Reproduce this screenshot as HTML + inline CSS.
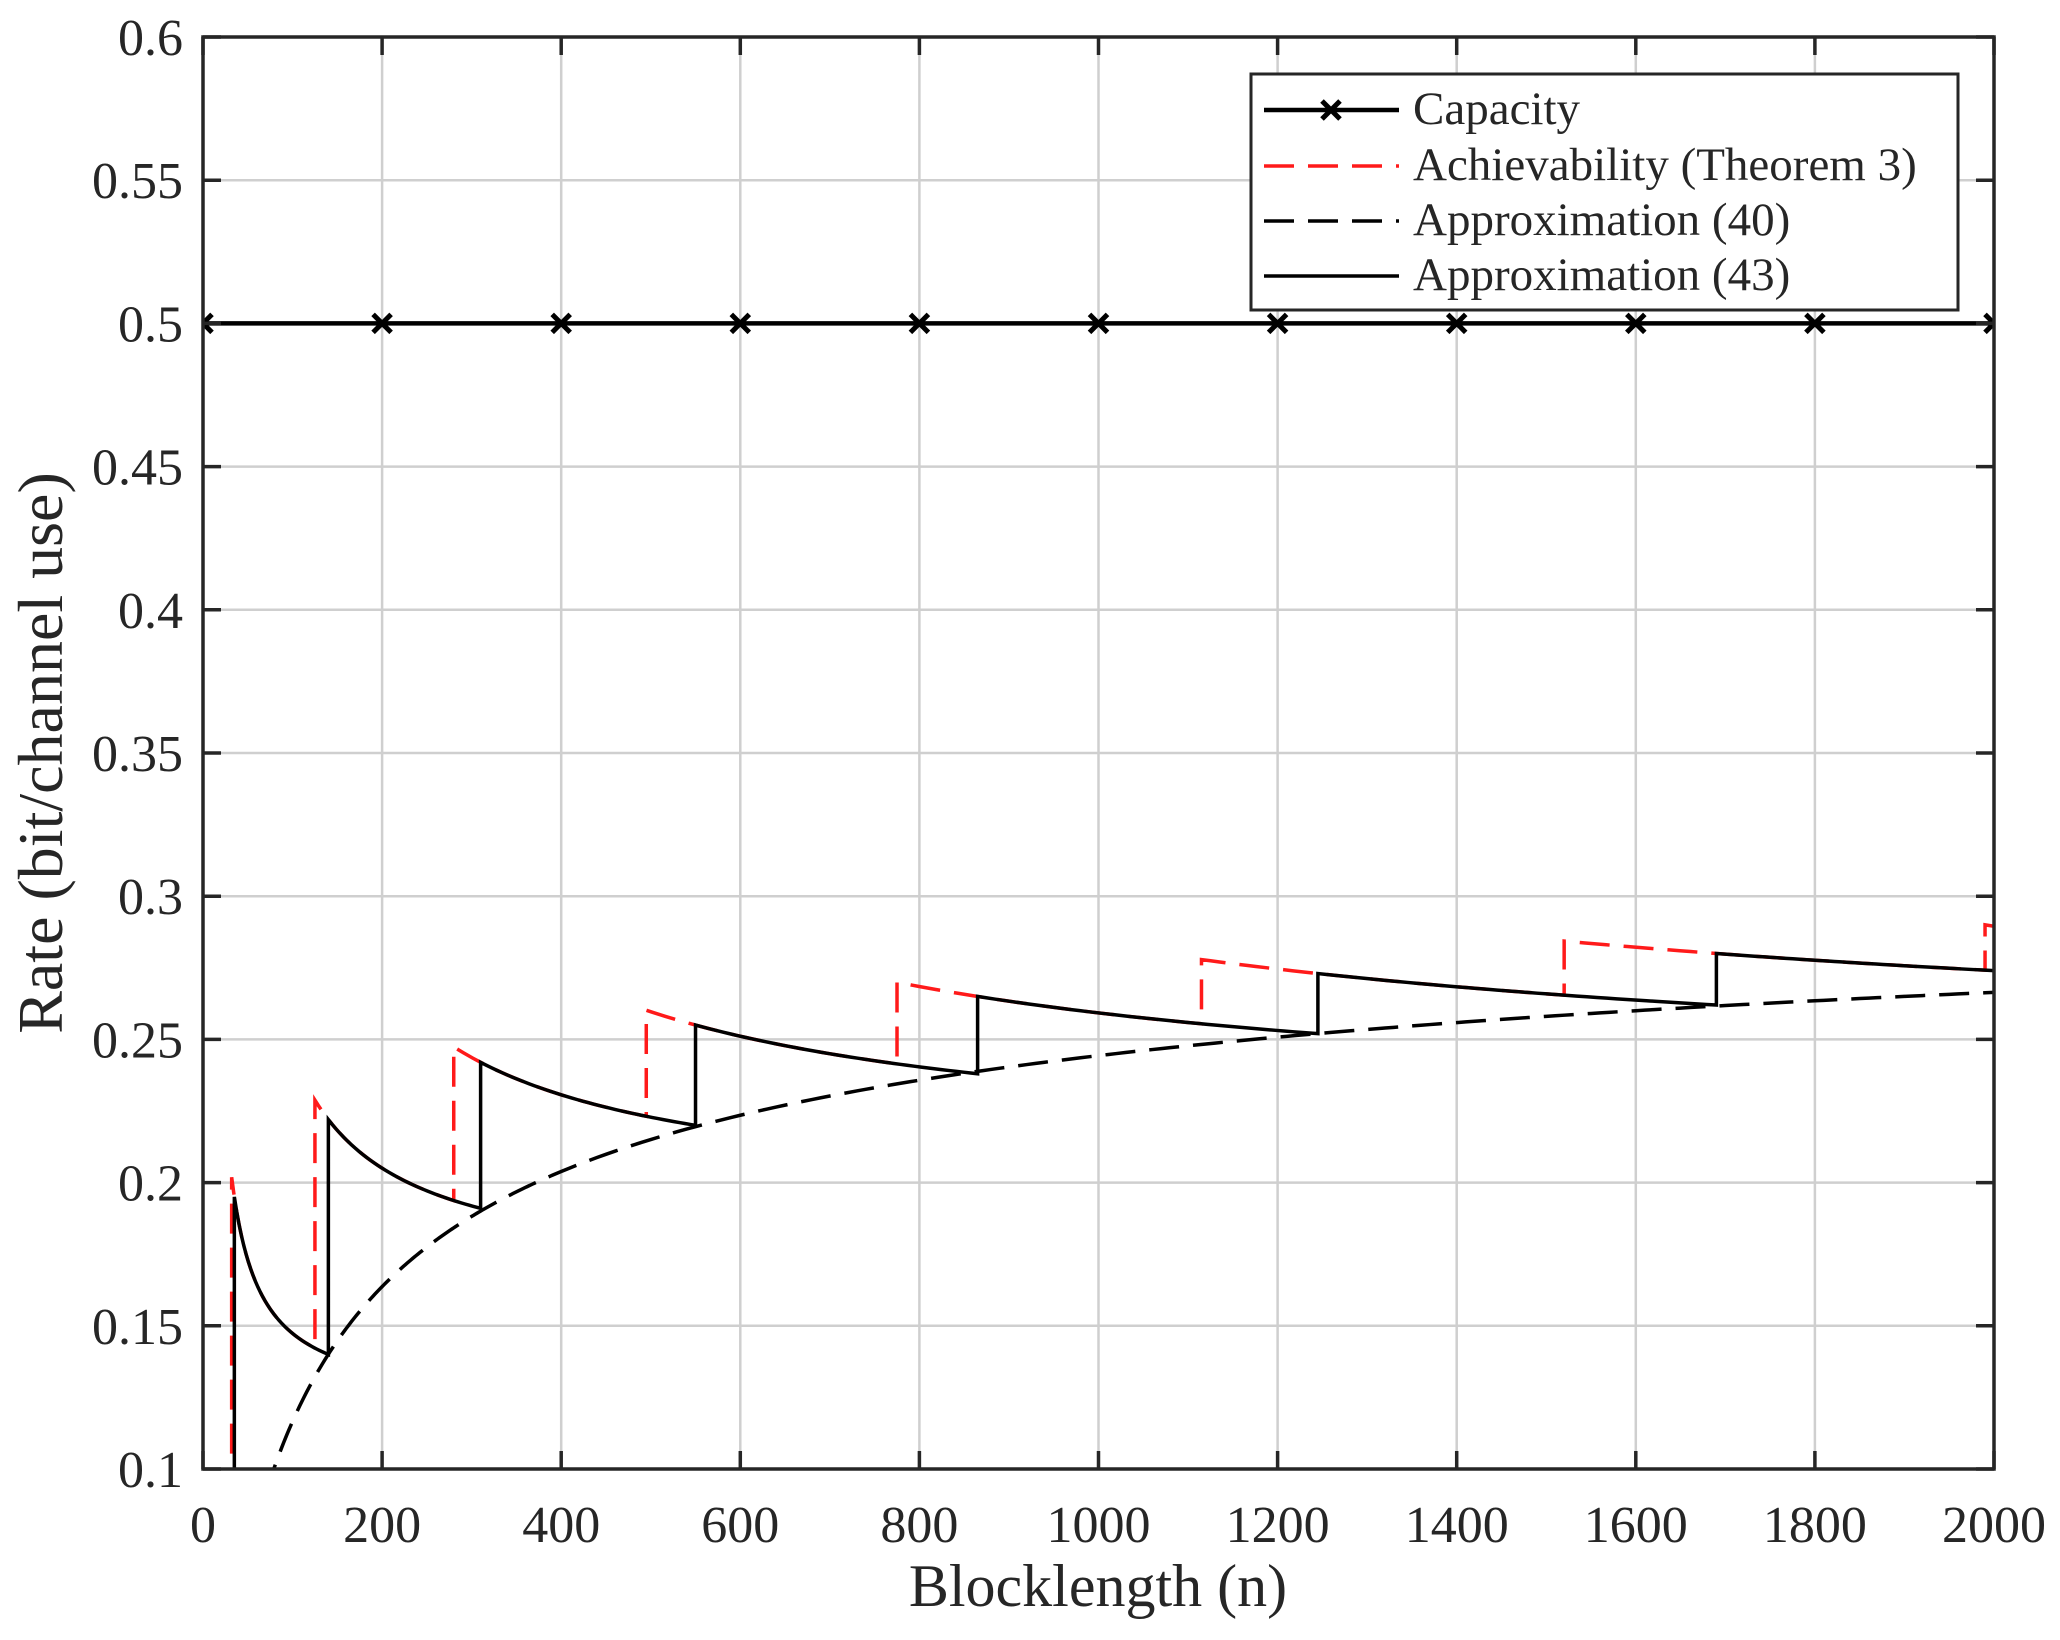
<!DOCTYPE html>
<html><head><meta charset="utf-8"><style>
html,body{margin:0;padding:0;background:#fff;}
svg{display:block;}
text{font-family:"Liberation Serif",serif;fill:#262626;}
</style></head><body>
<svg id="s" width="2060" height="1640" xmlns="http://www.w3.org/2000/svg">
<rect width="2060" height="1640" fill="#fff"/>
<defs><clipPath id="c"><rect x="203" y="37" width="1791" height="1432"/></clipPath></defs>
<g id="grid" stroke="#cfcfcf" stroke-width="2.5"></g>
<g id="data" clip-path="url(#c)" fill="none"></g>
<rect x="203" y="37" width="1791" height="1432" fill="none" stroke="#262626" stroke-width="3.5"/>
<g id="ticks" stroke="#262626" stroke-width="3.5"></g>
<g id="labels" font-size="52"></g>
<text x="1098" y="1606" font-size="60" text-anchor="middle">Blocklength (n)</text>
<text transform="translate(62,753) rotate(-90)" font-size="64" text-anchor="middle">Rate (bit/channel use)</text>
<rect x="1251" y="74" width="707" height="236" fill="#fff" stroke="#262626" stroke-width="3"/>
<g id="leg" stroke-width="3.5"></g>
<g font-size="47">
<text x="1413" y="124">Capacity</text>
<text x="1413" y="180">Achievability (Theorem 3)</text>
<text x="1413" y="235">Approximation (40)</text>
<text x="1413" y="290">Approximation (43)</text>
</g>
</svg>
<script>
var NS="http://www.w3.org/2000/svg";
function X(n){return 203+n*0.8955;}
function Y(r){return 1469-(r-0.1)*2864;}
function el(p,tag,a){var e=document.createElementNS(NS,tag);for(var k in a)e.setAttribute(k,a[k]);document.getElementById(p).appendChild(e);return e;}
function txt(p,x,y,s,anc){var e=el(p,'text',{x:x,y:y,'text-anchor':anc});e.textContent=s;}
for(var n=0;n<=2000;n+=200){var x=X(n);
 if(n>0&&n<2000)el('grid','line',{x1:x,y1:37,x2:x,y2:1469});
 el('ticks','line',{x1:x,y1:1469,x2:x,y2:1451});el('ticks','line',{x1:x,y1:37,x2:x,y2:55});
 txt('labels',x,1542,String(n),'middle');}
var yl=['0.1','0.15','0.2','0.25','0.3','0.35','0.4','0.45','0.5','0.55','0.6'];
for(var i=0;i<=10;i++){var r=0.1+i*0.05,y=Y(r);
 if(i>0&&i<10)el('grid','line',{x1:203,y1:y,x2:1994,y2:y});
 el('ticks','line',{x1:203,y1:y,x2:221,y2:y});el('ticks','line',{x1:1994,y1:y,x2:1976,y2:y});
 txt('labels',183,y+18,yl[i],'end');}
// approximation (40)
function g(n){return 0.3245-2.746/Math.sqrt(n)+6.67/n;}
var d='';for(var n=70,i=0;n<=2010;n+=(n<400?2:10),i++)d+=(i?'L':'M')+X(n)+','+Y(g(n));
var seg=[[35,0.195,140,0.14],[140,0.222,310,0.191],[310,0.242,550,0.22],[550,0.255,865,0.238],[865,0.265,1245,0.252],[1245,0.273,1690,0.262],[1690,0.28,2000,0.274]];
function f(s,n){var b=(s[1]-s[3])/(1/s[0]-1/s[2]);var a=s[1]-b/s[0];return a+b/n;}
function path(starts,ends){var p='M'+X(starts[0])+','+Y(0.09);
 for(var k=0;k<seg.length;k++){var n0=starts[k],n1=ends[k];
  for(var t=0;t<=40;t++){var n=n0+(n1-n0)*t/40;p+='L'+X(n)+','+Y(f(seg[k],n));}}
 return p;}
var rj=[32,125,280,495,775,1115,1520,1990];
var redp=path(rj,rj.slice(1));
redp+='L'+X(1990)+','+Y(0.29)+'L'+X(2010)+','+Y(0.289);
el('data','path',{d:redp,stroke:'#ff1a1a','stroke-width':3.5,'stroke-dasharray':'30,14'});
el('data','path',{d:d,stroke:'#000','stroke-width':3.5,'stroke-dasharray':'30,14'});
var bj=[35,140,310,550,865,1245,1690,2000];
el('data','path',{d:path(bj,bj.slice(1)),stroke:'#000','stroke-width':3.5});
el('data','line',{x1:203,y1:Y(0.5),x2:1994,y2:Y(0.5),stroke:'#000','stroke-width':4.5});
function cross(p,x,y){el(p,'path',{d:'M'+(x-9)+','+(y-9)+'L'+(x+9)+','+(y+9)+'M'+(x-9)+','+(y+9)+'L'+(x+9)+','+(y-9),stroke:'#000','stroke-width':5,fill:'none'});}
for(var n=0;n<=2000;n+=200)cross('data',X(n),Y(0.5));
el('leg','line',{x1:1264,y1:110,x2:1399,y2:110,stroke:'#000','stroke-width':4.5});cross('leg',1331,110);
el('leg','line',{x1:1264,y1:166,x2:1399,y2:166,stroke:'#ff1a1a','stroke-dasharray':'30,14'});
el('leg','line',{x1:1264,y1:221,x2:1399,y2:221,stroke:'#000','stroke-dasharray':'30,14'});
el('leg','line',{x1:1264,y1:276,x2:1399,y2:276,stroke:'#000'});
</script>
</body></html>
